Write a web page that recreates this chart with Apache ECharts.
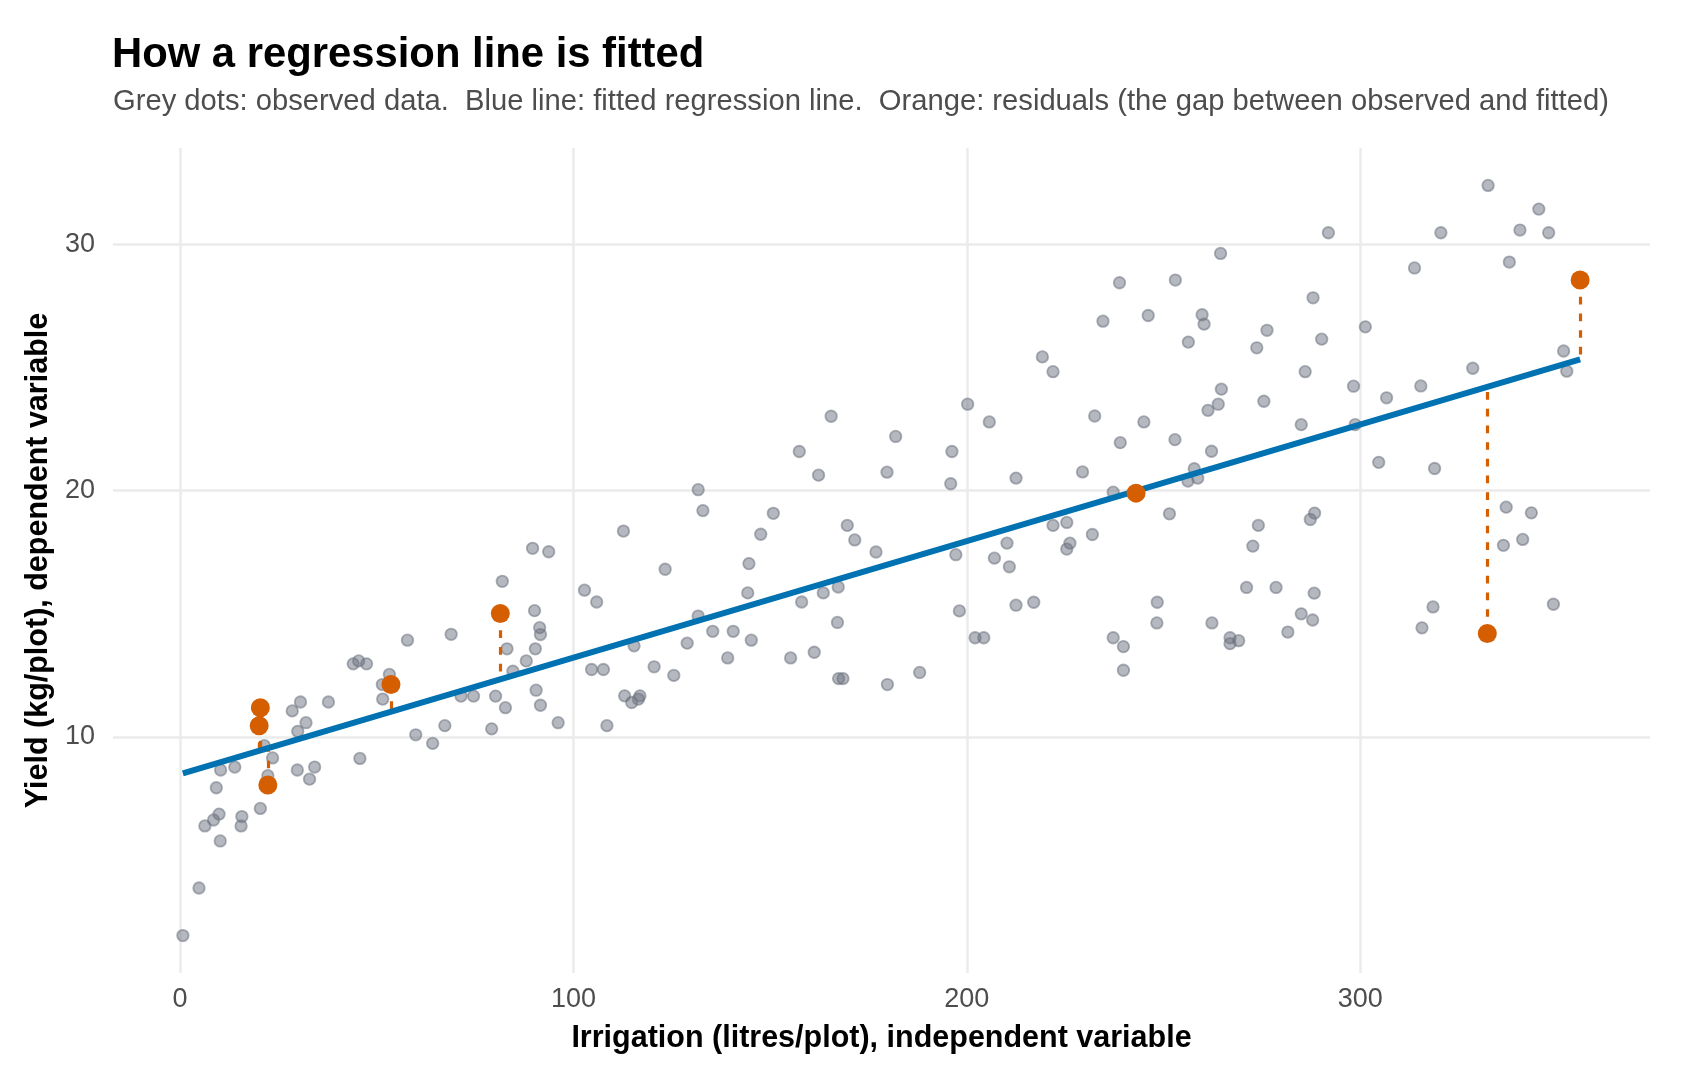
<!DOCTYPE html>
<html>
<head>
<meta charset="utf-8">
<title>How a regression line is fitted</title>
<script src="https://cdn.jsdelivr.net/npm/echarts@6.0.0/dist/echarts.min.js"></script>
<style>
    html, body { margin: 0; padding: 0; background: #fff; }
    #main { width: 1700px; height: 1080px; }
</style>
</head>
<body>
<div id="main"></div>
<script>
var irrigation = [
    0.7, 4.8, 6.3, 8.5, 9.9, 10.2, 9.2, 10.3, 13.9, 15.7, 15.5, 20.4, 21.4, 23.5, 22.3, 28.5, 30.6, 32.0, 29.9, 29.8,
    32.9, 34.2, 37.7, 44.0, 45.4, 47.4, 45.7, 51.4, 53.2, 51.5, 57.8, 59.9, 64.2, 68.9, 67.3, 71.4, 74.6, 79.2, 80.2, 81.9,
    83.1, 84.6, 82.7, 88.0, 89.6, 93.7, 90.1, 91.4, 91.6, 90.3, 90.5, 91.6, 96.1,
    102.8, 105.9, 112.7, 104.6, 107.6, 108.5, 115.4, 113.0, 114.8, 116.9, 116.5, 120.5, 123.3, 125.5, 128.9, 131.7,
    132.9, 131.7, 135.4, 139.2, 140.6, 144.6, 144.3, 145.2, 147.6, 150.8, 155.2, 157.4, 158.0, 161.2, 162.3, 163.5,
    165.5, 167.1, 167.3, 167.4, 168.5, 169.6, 171.5, 176.9, 179.7, 179.8, 181.9, 188.0, 196.2, 195.9, 197.2, 198.1,
    291.9, 264.5, 238.8, 253.0, 246.1, 234.6, 259.8, 260.3, 256.3, 288.0, 276.3, 273.7, 290.2, 219.2, 221.9, 286.0,
    298.3, 200.2, 205.7, 232.5, 245.0, 239.0, 252.9, 264.7, 263.9, 261.3, 275.5, 285.0, 298.7, 262.2, 212.5, 229.4,
    237.2, 257.8, 256.2, 258.7, 251.5, 274.1, 288.4, 287.3, 272.7, 221.9, 225.4, 226.2, 225.4, 231.9, 210.2, 207.0,
    210.8, 212.5, 217.0, 202.1, 204.3, 237.2, 239.8, 239.8, 248.4, 248.3, 262.3, 266.9, 266.9, 269.1, 271.1, 278.6,
    288.3, 285.0, 287.9, 281.6,
    332.5, 345.4, 320.5, 340.6, 347.9, 313.8, 337.9, 301.3, 351.7, 352.5, 328.6, 306.7, 315.4, 304.7, 318.9, 337.1,
    343.5, 341.3, 336.4, 318.5, 315.7, 349.1
];
var yieldKg = [
    1.93, 3.86, 6.38, 6.62, 6.86, 5.77, 7.93, 8.65, 8.77, 6.76, 6.38, 7.09, 9.64, 9.14, 8.42, 11.05, 11.41, 10.57, 10.22, 8.65,
    8.28, 8.77, 11.41, 12.96, 13.08, 12.96, 9.12, 12.12, 12.53, 11.53, 13.92, 10.08, 9.73, 14.16, 10.45, 11.65, 11.65, 10.32, 11.65, 16.31,
    13.57, 12.66, 11.18, 13.08, 17.65, 17.51, 15.12, 14.43, 14.15, 13.57, 11.89, 11.28, 10.57,
    15.95, 15.47, 18.35, 12.73, 12.73, 10.45, 13.69, 11.66, 11.39, 11.66, 11.53, 12.84, 16.8, 12.49, 13.8, 20.03,
    19.18, 14.9, 14.28, 13.2, 14.28, 17.03, 15.84, 13.92, 18.22, 19.07, 13.2, 21.58, 15.47, 13.43, 20.62, 15.84,
    23.01, 14.64, 16.08, 12.36, 12.36, 18.58, 17.99, 17.5, 20.74, 12.12, 22.19, 12.61, 21.58, 20.27, 17.39, 15.11,
    30.46, 29.62, 28.43, 28.54, 27.1, 26.87, 27.13, 26.75, 26.02, 27.82, 26.5, 25.79, 26.14, 25.42, 24.82, 24.82,
    24.23, 23.5, 22.78, 23.02, 22.78, 21.94, 22.06, 24.11, 23.5, 23.25, 23.62, 22.67, 22.67, 21.59, 20.5, 20.75,
    19.93, 20.88, 20.38, 20.5, 19.05, 18.58, 19.08, 18.82, 17.74, 18.58, 18.7, 17.86, 17.62, 18.21, 17.86, 17.25,
    16.9, 15.34, 15.46, 14.02, 14.02, 14.02, 13.66, 12.7, 15.46, 14.62, 14.62, 14.02, 13.78, 13.9, 16.06, 16.06,
    15.83, 14.99, 14.74, 14.25,
    32.38, 31.42, 30.46, 30.57, 30.46, 29.03, 29.27, 26.64, 25.66, 24.84, 24.96, 23.76, 24.24, 21.14, 20.89, 19.32,
    19.09, 18.01, 17.77, 15.27, 14.42, 15.38
];

// highlighted points with their residuals
var residX = [20.4, 20.1, 22.3, 53.6, 81.4, 243.0, 332.3, 355.9];
var residObserved = [11.18, 10.45, 8.04, 12.12, 15.0, 19.89, 14.19, 28.54];
var residFitted = [9.45, 9.43, 9.54, 11.02, 12.33, 19.98, 24.21, 25.32];

// fitted regression line, ends of the drawn segment
var fitX = [0.7, 355.9];
var fitY = [8.51, 25.32];

var xTicks = [0, 100, 200, 300];
var yTicks = [10, 20, 30];

var FONT = '"Liberation Sans", Arial, Helvetica, sans-serif';
var GRID_COLOR = '#ebebeb';

var observed = irrigation.map(function (x, i) { return [x, yieldKg[i]]; });
var fitted = fitX.map(function (x, i) { return [x, fitY[i]]; });
var highlighted = residX.map(function (x, i) { return [x, residObserved[i]]; });
var residualLines = residX.map(function (x, i) {
    return { coords: [[x, residObserved[i]], [x, residFitted[i]]] };
});

var option = {
    animation: false,
    backgroundColor: '#ffffff',
    textStyle: { fontFamily: FONT },
    title: [
        {
            text: 'How a regression line is fitted',
            left: 112,
            top: 34,
            padding: 0,
            textStyle: { fontFamily: FONT, fontSize: 41.8, fontWeight: 'bold', color: '#000000' }
        },
        {
            text: 'Grey dots: observed data.  Blue line: fitted regression line.  Orange: residuals (the gap between observed and fitted)',
            left: 113,
            top: 87,
            padding: 0,
            textStyle: { fontFamily: FONT, fontSize: 29.2, fontWeight: 'normal', color: '#4d4d4d' }
        }
    ],
    grid: { left: 113, top: 148, width: 1537, height: 825, containLabel: false },
    xAxis: {
        type: 'value',
        min: -17.06,
        max: 373.66,
        name: 'Irrigation (litres/plot), independent variable',
        nameLocation: 'middle',
        nameGap: 50,
        nameTextStyle: { fontFamily: FONT, fontSize: 30.5, fontWeight: 'bold', color: '#000000' },
        axisLine: { show: false },
        axisTick: { show: false, customValues: xTicks },
        axisLabel: { customValues: xTicks, margin: 13, fontFamily: FONT, fontSize: 27, color: '#4d4d4d' },
        splitLine: { show: true, lineStyle: { color: GRID_COLOR, width: 2.5 } }
    },
    yAxis: {
        type: 'value',
        min: 0.41,
        max: 33.9,
        name: 'Yield (kg/plot), dependent variable',
        nameLocation: 'middle',
        nameGap: 51,
        nameTextStyle: { fontFamily: FONT, fontSize: 30.5, fontWeight: 'bold', color: '#000000' },
        axisLine: { show: false },
        axisTick: { show: false, customValues: yTicks },
        axisLabel: { customValues: yTicks, margin: 18, fontFamily: FONT, fontSize: 27, color: '#4d4d4d' },
        splitLine: { show: true, lineStyle: { color: GRID_COLOR, width: 2.5 } }
    },
    series: [
        {
            name: 'observed',
            type: 'scatter',
            data: observed,
            symbol: 'circle',
            symbolSize: 11.5,
            itemStyle: {
                color: 'rgba(107, 114, 128, 0.5)',
                borderColor: 'rgba(107, 114, 128, 0.55)',
                borderWidth: 1.8,
                opacity: 1
            },
            z: 2
        },
        {
            name: 'residuals',
            type: 'lines',
            coordinateSystem: 'cartesian2d',
            data: residualLines,
            lineStyle: { color: '#D55E00', width: 3.2, type: [7.7, 9], opacity: 1 },
            z: 3
        },
        {
            name: 'fitted',
            type: 'line',
            data: fitted,
            showSymbol: false,
            lineStyle: { color: '#0072B2', width: 6 },
            z: 4
        },
        {
            name: 'highlighted',
            type: 'scatter',
            data: highlighted,
            symbol: 'circle',
            symbolSize: 19,
            itemStyle: { color: '#D55E00', opacity: 1 },
            z: 5
        }
    ]
};

var myChart = echarts.init(document.getElementById('main'), null, { renderer: 'canvas' });
myChart.setOption(option);
</script>
</body>
</html>
